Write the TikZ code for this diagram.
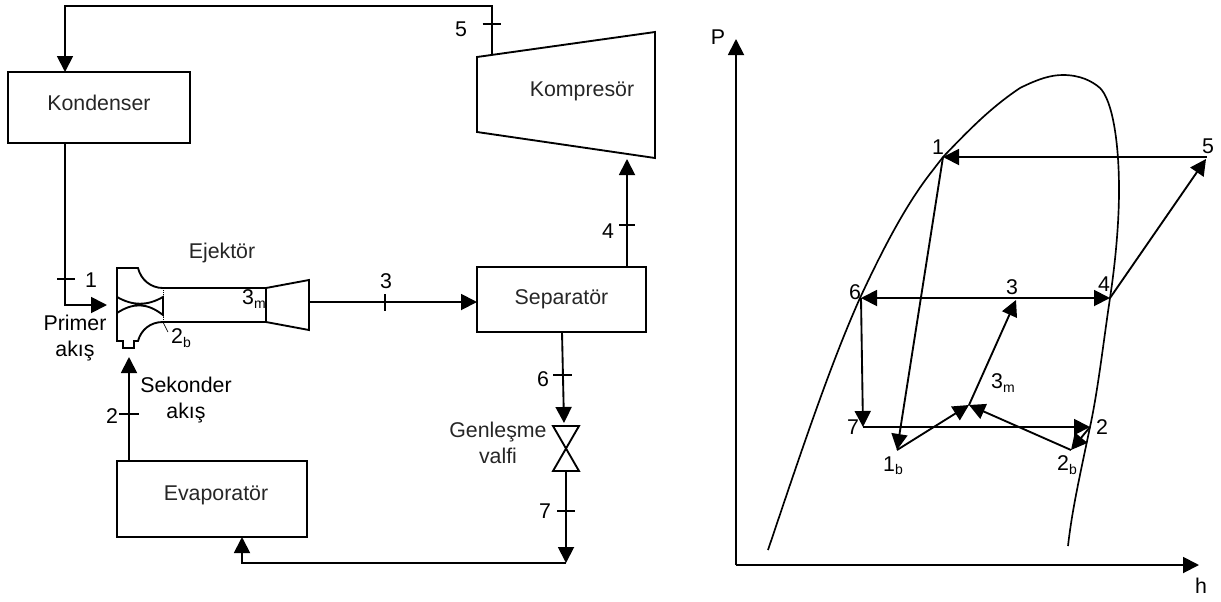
\documentclass[tikz,border=0pt]{standalone}
\usepackage{fontspec}
\setmainfont{Liberation Sans}
\usetikzlibrary{arrows.meta}
\newcommand{\subb}[1]{{\fontsize{10.5}{12}\selectfont\raisebox{-2.5pt}{#1}}}
\newcommand{\htick}[4]{\coordinate (#1) at (#2,#3); \draw[wire] ([xshift=-#4*0.75pt]#1) -- ([xshift=#4*0.75pt]#1);}
\tikzset{
  x=0.75pt,y=-0.75pt,
  wire/.style={line width=1.4pt,draw=black,line join=miter},
  flow/.style={wire,-{Triangle[length=12pt,width=12pt]}},
  bothflow/.style={wire,{Triangle[length=12pt,width=12pt]}-{Triangle[length=12pt,width=12pt]}},
  curve/.style={line width=1.25pt,draw=black},
  thin wire/.style={line width=0.5pt,draw=black},
  box/.style={draw=black,line width=1.4pt,outer sep=0pt,inner sep=0pt,text=black!85},
  lab/.style={inner sep=0pt,outer sep=0pt,text=black,font=\fontsize{16}{19}\selectfont,align=center},
}
\begin{document}
\begin{tikzpicture}[font=\fontsize{16}{19}\selectfont]
\useasboundingbox (0,0) rectangle (1221,601);
% boxes
\node[box,minimum width=136.5pt,minimum height=53.25pt,text depth=6.5pt] (kond) at (99,107.5) {Kondenser};
\node[box,minimum width=142.5pt,minimum height=57pt,text depth=9pt] (evap) at (212,499) {\hspace*{6pt}Evaporatör};
\node[box,minimum width=126.75pt,minimum height=48.75pt] (sep) at (561.5,299.5) {Separatör};
% compressor
\coordinate (c1) at (477,57); \coordinate (c2) at (655,32); \coordinate (c3) at (655,158); \coordinate (c4) at (477,132);
\draw[wire] (c1) -- (c2) -- (c3) -- (c4) -- cycle;
\node[lab,text=black!85] (komp) at (582,91) {Kompresör};
% ejector outline
\coordinate (e1) at (117,268); \coordinate (e2) at (138,268); \coordinate (e3) at (163,288); \coordinate (e4) at (266,288);
\coordinate (e5) at (309,280); \coordinate (e6) at (309,330); \coordinate (e7) at (266,322); \coordinate (e8) at (163,322);
\coordinate (e9) at (138,341); \coordinate (e10) at (134,341); \coordinate (e11) at (134,348); \coordinate (e12) at (123,348);
\coordinate (e13) at (123,341); \coordinate (e14) at (117,341);
\coordinate (eout) at (309,302); \coordinate (ein) at (129,357); \coordinate (eprim) at (107,305);
\draw[wire] (e1) -- (e2) .. controls (141,280) and (151,288) .. (e3) -- (e4) -- (e5) -- (e6) -- (e7) -- (e8)
  .. controls (150,322) and (141,330) .. (e9) -- (e10) -- (e11) -- (e12) -- (e13) -- (e14) -- cycle;
\draw[wire] (e4) -- (e7);
% nozzle
\coordinate (n1) at (117,297); \coordinate (n2) at (163,297); \coordinate (n3) at (163,315); \coordinate (n4) at (117,313);
\draw[wire] (n1) .. controls (133,306) and (147,306) .. (n2) -- (n3) .. controls (147,302.5) and (133,302.5) .. (n4);
\draw[thin wire,densely dotted] (e3) -- (n2);
\draw[thin wire,densely dotted] (n3) -- (e8);
\coordinate (lead) at (168,332);
\draw[thin wire] (e8) -- (lead);
% valve
\coordinate (v1) at (553,426); \coordinate (v2) at (579,426); \coordinate (v3) at (553,471); \coordinate (v4) at (579,471);
\coordinate (vout) at (566,471); \coordinate (vin) at (564,423);
\draw[wire] (v1) -- (v2) -- (v3) -- (v4) -- cycle;
% connectors
\coordinate (top1) at (492,55); \coordinate (top2) at (492,6); \coordinate (top3) at (65,6);
\draw[flow] (top1) -- (top2) -- (top3) -- (kond.north -| top3);
\coordinate (k1) at (65,305);
\draw[flow] (kond.south -| k1) -- (k1) -- (eprim);
\draw[flow] (evap.north -| ein) -- (ein);
\draw[flow] (eout) -- (sep.west |- eout);
\coordinate (s4) at (627,159);
\draw[flow] (sep.north -| s4) -- (s4);
\draw[flow] (sep.south -| 562,0) -- (vin);
\coordinate (b1) at (566,563); \coordinate (b2) at (242,563);
\draw[flow] (vout) -- (b1);
\draw[flow] (b1) -- (b2) -- (evap.south -| b2);
% ticks
\htick{t5}{491.5}{24}{9}
\htick{t4}{627}{225}{8}
\htick{t1}{66}{279}{9}
\htick{t2}{129}{414}{10}
\htick{t6}{562.5}{375}{9.5}
\htick{t7}{566}{511}{9}
\coordinate (t3) at (385,302);
\draw[wire] ([yshift=8*0.75pt]t3) -- ([yshift=-9*0.75pt]t3);
% left labels
\node[lab] (l5) at (461,29) {5};
\node[lab] (l4) at (608,231) {4};
\node[lab] (l1) at (91,280) {1};
\node[lab] (l3) at (386,281) {3};
\node[lab] (l2) at (112,416) {2};
\node[lab] (l6) at (543,379) {6};
\node[lab] (l7) at (545,511) {7};
\node[lab,text=black!85] (lej) at (222,253) {Ejektör};
\node[lab] (lprim) at (75,338) {Primer\\akış};
\node[lab] (lsek) at (186,400) {Sekonder\\akış};
\node[lab,text=black!85] (lgen) at (498,443) {Genleşme\\valfi};
\node[lab] (l2b) at (181,338) {2\subb{b}};
\node[lab] (l3m) at (254,299) {3\subb{m}};
% P-h axes
\coordinate (o) at (736,565); \coordinate (pt) at (736,39); \coordinate (ht) at (1199,565);
\draw[flow] (o) -- (pt);
\draw[flow] (o) -- (ht);
\node[lab] (lP) at (718,37) {P};
\node[lab] (lh) at (1201,586) {h};
% saturation dome
\draw[curve] (768,550) .. controls (800,455) and (830,365) .. (860,298)
  .. controls (880,255) and (905,205) .. (933,170)
  .. controls (936,166) and (940,161) .. (943,157)
  .. controls (968,131) and (990,108) .. (1020,88)
  .. controls (1040,78) and (1052,75) .. (1063,75)
  .. controls (1080,75) and (1092,81) .. (1100,88)
  .. controls (1112,100) and (1119,140) .. (1119,190)
  .. controls (1119,225) and (1115,265) .. (1110,298)
  .. controls (1103,345) and (1098,390) .. (1090,427)
  .. controls (1080,475) and (1072,510) .. (1068,546);
% cycle points
\coordinate (p1) at (943,157); \coordinate (p1b) at (897,450); \coordinate (p2) at (1090,427); \coordinate (p2b) at (1071,450);
\coordinate (p3) at (1016,300); \coordinate (p3m) at (969,405); \coordinate (p4) at (1110,298); \coordinate (p5) at (1207,157);
\coordinate (p5t) at (1206,159); \coordinate (p6) at (861,298); \coordinate (p7) at (863,427);
\draw[flow] (p5) -- (p1);
\draw[flow] (p4) -- (p5t);
\draw[flow] (p1) -- (p1b);
\draw[bothflow] (p6) -- (p4);
\draw[flow] (p3m) -- (p3);
\draw[flow] (p1b) -- (p3m);
\draw[flow] (p2b) -- (p3m);
\draw[flow] (p6) -- (p7);
\draw[flow] (p7) -- (p2);
\draw[flow] (p2) -- (p2b);
% right labels
\node[lab] (r1) at (938,147) {1};
\node[lab] (r5) at (1208,146) {5};
\node[lab] (r3) at (1012,287) {3};
\node[lab] (r4) at (1104,284) {4};
\node[lab] (r6) at (855,292) {6};
\node[lab] (r7) at (853,427) {7};
\node[lab] (r2) at (1102,427) {2};
\node[lab] (r3m) at (1003,383) {3\subb{m}};
\node[lab] (r1b) at (893,466) {1\subb{b}};
\node[lab] (r2b) at (1067,465) {2\subb{b}};
\end{tikzpicture}
\end{document}
